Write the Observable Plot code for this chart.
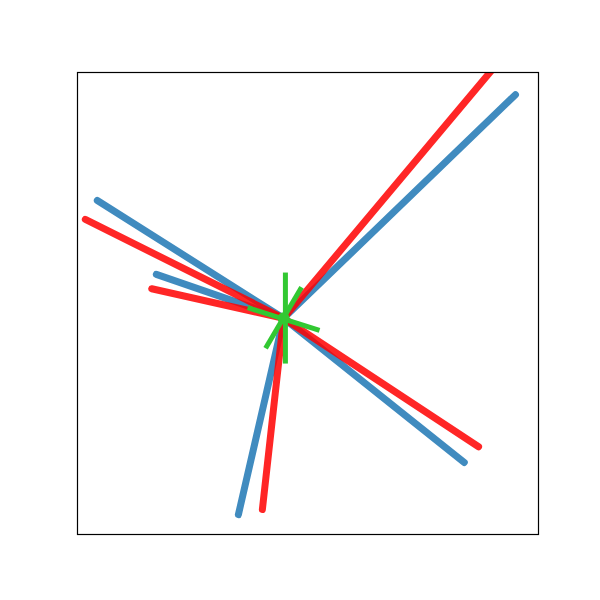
<!DOCTYPE html>
<html>
<head>
<meta charset="utf-8">
<script src="https://cdn.jsdelivr.net/npm/d3@7"></script>
<script src="https://cdn.jsdelivr.net/npm/@observablehq/plot@0.6"></script>
<style>body{margin:0;background:#fff;font-family:"DejaVu Sans",sans-serif;}</style>
</head>
<body>
<div id="chart"></div>
<script>
// Center of the star
const center = {x: 44.7, y: 46.8};
// Ray end points (data units)
const blueRays = [
  {x: 95.0, y: 95.2},
  {x: 4.3, y: 72.3},
  {x: 17.1, y: 56.3},
  {x: 83.9, y: 15.6},
  {x: 34.9, y: 4.3}
];
const redRays = [
  {x: 90.2, y: 100.9},
  {x: 1.7, y: 68.2},
  {x: 16.1, y: 53.2},
  {x: 87.0, y: 19.0},
  {x: 40.1, y: 5.4}
];
// Green segments through the center
const greenSegs = [
  {x1: 45.1, y1: 56.7, x2: 45.1, y2: 37.0},
  {x1: 40.8, y1: 40.3, x2: 48.6, y2: 53.5},
  {x1: 36.9, y1: 49.1, x2: 52.5, y2: 44.2}
];

const toLinks = (arr) => arr.map(d => ({x1: center.x, y1: center.y, x2: d.x, y2: d.y}));

const plot = Plot.plot({
  width: 600,
  height: 600,
  marginLeft: 77,
  marginRight: 62,
  marginTop: 72,
  marginBottom: 66,
  x: {domain: [0, 100], axis: null},
  y: {domain: [0, 100], axis: null},
  marks: [
    Plot.link(toLinks(blueRays), {x1: "x1", y1: "y1", x2: "x2", y2: "y2", stroke: "#1f77b4", strokeWidth: 7, strokeOpacity: 0.85, strokeLinecap: "round", clip: true}),
    Plot.link(toLinks(redRays), {x1: "x1", y1: "y1", x2: "x2", y2: "y2", stroke: "#ff0000", strokeWidth: 7, strokeOpacity: 0.85, strokeLinecap: "round", clip: true}),
    Plot.link(greenSegs, {x1: "x1", y1: "y1", x2: "x2", y2: "y2", stroke: "#32c832", strokeWidth: 5}),
    Plot.dot([center], {x: "x", y: "y", r: 6, fill: "#32c832", stroke: "none"}),
    Plot.frame({stroke: "black", strokeWidth: 1.2})
  ]
});
document.getElementById("chart").appendChild(plot);
</script>
</body>
</html>
